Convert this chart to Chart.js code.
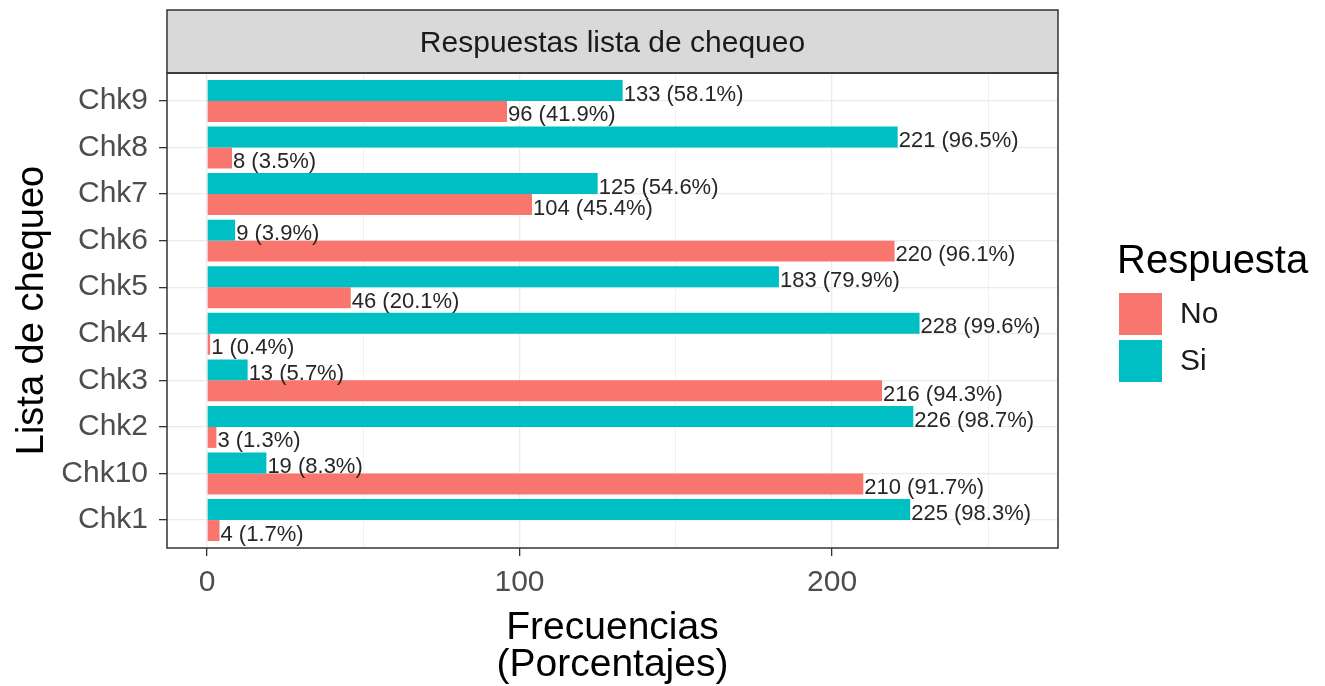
<!DOCTYPE html>
<html>
<head>
<meta charset="utf-8">
<script src="https://cdn.jsdelivr.net/npm/chart.js@4"></script>
<style>
  html, body { margin: 0; padding: 0; background: #fff; }
  #wrap { width: 1325px; height: 686px; }
</style>
</head>
<body>
<div id="wrap"><canvas id="chkChart" width="1325" height="686"></canvas></div>
<script>
// data, top to bottom as in the figure
var categorias = ["Chk9", "Chk8", "Chk7", "Chk6", "Chk5", "Chk4", "Chk3", "Chk2", "Chk10", "Chk1"];
var respuestaNo = [96, 8, 104, 220, 46, 1, 216, 3, 210, 4];
var respuestaSi = [133, 221, 125, 9, 183, 228, 13, 226, 19, 225];
var ticksX = [0, 50, 100, 150, 200, 250];
var etiquetasX = ["0", "", "100", "", "200", ""];

var FONT = "'Liberation Sans', Arial, sans-serif";
var colorNo = "#F8766D";
var colorSi = "#00BFC4";

// strip on top + panel border
var panelDecor = {
  id: "panelDecor",
  afterDraw: function (chart) {
    var ctx = chart.ctx;
    var a = chart.chartArea;
    ctx.save();
    ctx.fillStyle = "#D9D9D9";
    ctx.fillRect(a.left, 10, a.right - a.left, a.top - 10);
    ctx.strokeStyle = "#333333";
    ctx.lineWidth = 1.5;
    ctx.strokeRect(a.left, 10, a.right - a.left, a.top - 10);
    ctx.strokeRect(a.left, a.top, a.right - a.left, a.bottom - a.top);
    ctx.fillStyle = "#1A1A1A";
    ctx.font = "30px " + FONT;
    ctx.textAlign = "center";
    ctx.textBaseline = "middle";
    ctx.fillText("Respuestas lista de chequeo", (a.left + a.right) / 2, (10 + a.top) / 2 + 2);
    ctx.restore();
  }
};

// value labels at the end of each bar
var barLabels = {
  id: "barLabels",
  afterDatasetsDraw: function (chart) {
    var ctx = chart.ctx;
    ctx.save();
    ctx.font = "22px " + FONT;
    ctx.fillStyle = "#262626";
    ctx.textAlign = "left";
    ctx.textBaseline = "middle";
    chart.data.datasets.forEach(function (ds, i) {
      chart.getDatasetMeta(i).data.forEach(function (bar, j) {
        var total = respuestaNo[j] + respuestaSi[j];
        var pct = (ds.data[j] / total * 100).toFixed(1);
        ctx.fillText(ds.data[j] + " (" + pct + "%)", bar.x + 1, bar.y + 4);
      });
    });
    ctx.restore();
  }
};

// legend on the right, ggplot style
var legendaRespuesta = {
  id: "legendaRespuesta",
  afterDraw: function (chart) {
    var ctx = chart.ctx;
    ctx.save();
    ctx.textAlign = "left";
    ctx.textBaseline = "middle";
    ctx.fillStyle = "#000";
    ctx.font = "40px " + FONT;
    ctx.fillText("Respuesta", 1117, 262);
    var items = [["No", colorNo], ["Si", colorSi]];
    items.forEach(function (it, k) {
      var y = 293 + k * 47;
      ctx.fillStyle = it[1];
      ctx.fillRect(1119, y, 43, 42);
      ctx.fillStyle = "#1A1A1A";
      ctx.font = "30px " + FONT;
      ctx.fillText(it[0], 1180, y + 22);
    });
    ctx.restore();
  }
};

var ctx = document.getElementById("chkChart");
var chkChart = new Chart(ctx, {
  type: "bar",
  data: {
    labels: categorias,
    datasets: [
      {
        label: "Si",
        data: respuestaSi,
        backgroundColor: colorSi,
        borderWidth: 0,
        categoryPercentage: 0.9,
        barPercentage: 1.0,
      },
      {
        label: "No",
        data: respuestaNo,
        backgroundColor: colorNo,
        borderWidth: 0,
        categoryPercentage: 0.9,
        barPercentage: 1.0,
      },
    ],
  },
  options: {
    indexAxis: "y",
    responsive: false,
    animation: false,
    layout: {
      padding: { top: 73, right: 267, bottom: 0, left: 0 },
    },
    scales: {
      x: {
        type: "linear",
        min: -12.8,
        max: 272.3,
        afterBuildTicks: function (scale) {
          scale.ticks = ticksX.map(function (v) { return { value: v }; });
        },
        afterFit: function (scale) {
          scale.height = 138;
        },
        border: { display: false },
        grid: {
          color: "#EBEBEB",
          lineWidth: function (c) { return c.index % 2 === 0 ? 1.3 : 0.7; },
          tickColor: function (c) { return c.index % 2 === 0 ? "#333333" : "rgba(0,0,0,0)"; },
          tickLength: 8,
          tickWidth: 1.3,
        },
        ticks: {
          padding: 9,
          color: "#4D4D4D",
          font: { family: FONT, size: 30 },
          maxRotation: 0,
          autoSkip: false,
          callback: function (v, i) { return etiquetasX[i]; },
        },
        title: {
          display: true,
          text: ["Frecuencias", "(Porcentajes)"],
          color: "#000",
          font: { family: FONT, size: 39, lineHeight: 0.95 },
          padding: { top: 0, bottom: 2 },
        },
      },
      y: {
        type: "category",
        offset: true,
        afterFit: function (scale) {
          scale.width = 167;
          // ggplot pads a discrete axis by 0.6 of a step, Chart.js by 0.5
          scale._startValue -= 0.1;
          scale._valueRange += 0.2;
        },
        border: { display: false },
        grid: {
          offset: false,
          color: "#EBEBEB",
          lineWidth: 1.3,
          tickColor: "#333333",
          tickLength: 8,
          tickWidth: 1.3,
        },
        ticks: {
          padding: 11,
          color: "#4D4D4D",
          font: { family: FONT, size: 30 },
          autoSkip: false,
        },
        title: {
          display: true,
          text: "Lista de chequeo",
          color: "#000",
          font: { family: FONT, size: 38 },
          padding: { top: 10, bottom: 0 },
        },
      },
    },
    plugins: {
      legend: { display: false },
      tooltip: { enabled: false },
    },
  },
  plugins: [panelDecor, barLabels, legendaRespuesta],
});
</script>
</body>
</html>
